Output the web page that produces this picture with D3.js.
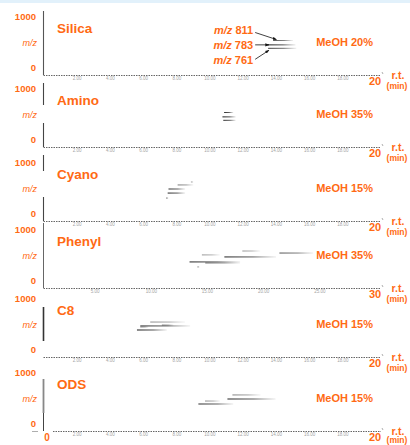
<!DOCTYPE html>
<html>
<head>
<meta charset="utf-8">
<script src="https://cdn.jsdelivr.net/npm/d3@7"></script>
<style>
  html, body { margin: 0; padding: 0; background: #fff; }
  svg { display: block; font-family: "Liberation Sans", Arial, sans-serif; }
</style>
</head>
<body>
<script>
// Stationary phases compared, one panel each, with the methanol content used
const columns = ["Silica", "Amino", "Cyano", "Phenyl", "C8", "ODS"];
const mobilePhase = ["MeOH 20%", "MeOH 35%", "MeOH 15%", "MeOH 35%", "MeOH 15%", "MeOH 15%"];
const rtMax = [20, 20, 20, 30, 20, 20];
const rtTicks20 = [2, 4, 6, 8, 10, 12, 14, 16, 18];
const rtTicks30 = [5, 10, 15, 20, 25];
const mzLabelValues = [1000, 0];

// Ion traces per column: [rt start (min), rt end (min), m/z, relative intensity]
const silicaTraces = [[13.8, 15.0, 811, 0.6], [13.45, 15.15, 783, 0.95], [13.5, 15.2, 761, 0.75]];
const aminoTraces = [[10.85, 11.4, 811, 0.85], [10.75, 11.55, 783, 0.95], [10.8, 11.55, 761, 0.85]];
const cyanoTraces = [[8.85, 9.0, 840, 0.3], [8.05, 9.0, 821, 0.45], [7.5, 8.5, 795, 0.85],
                     [7.45, 8.5, 769, 0.9], [7.35, 7.5, 737, 0.5]];
const phenylTraces = [[18.1, 19.7, 827, 0.3], [21.4, 24.4, 814, 0.65], [14.5, 16.1, 802, 0.3],
                      [16.5, 21.1, 789, 0.9], [13.4, 17.9, 757, 0.9], [14.8, 17.9, 750, 0.45],
                      [14.1, 14.3, 725, 0.4]];
const c8Traces = [[6.4, 8.5, 814, 0.35], [7.1, 7.8, 795, 0.35], [5.8, 8.8, 789, 0.85],
                  [5.8, 6.3, 782, 0.35], [5.6, 7.4, 763, 0.95]];
const odsTraces = [[11.35, 13.05, 821, 0.4], [11.05, 13.95, 795, 0.9], [9.7, 10.6, 782, 0.35],
                   [9.3, 11.4, 763, 0.85]];
const traces = [silicaTraces, aminoTraces, cyanoTraces, phenylTraces, c8Traces, odsTraces];

// Annotated ions in the silica panel
const annotatedMz = [811, 783, 761];
const annotatedRt = [14.0, 13.55, 13.55];

const W = 410, H = 445;
const orange = "#ff6a14";
const baselines = [75, 147, 221, 288, 357, 431];   // x-axis line of each panel
const plotHeight = 64;
const xLeft = 44, xRight = 376;

// y-axis strokes of each panel: [top, bottom (px above baseline), width, colour]
const axisStrokes = [
  [[-64, 0, 1.1, "#555"]],
  [[-64, -42, 1.1, "#444"], [-24, 0, 1.1, "#444"]],
  [[-66, -50, 1.1, "#444"], [-24, 0, 1.1, "#444"]],
  [[-65, 0, 1, "#666"]],
  [[-50, -16, 1.6, "#333"]],
  [[-52, -18, 1.8, "#888"], [-18, 0, 1, "#444"]]
];

const svg = d3.select("body").append("svg").attr("width", W).attr("height", H);
const defs = svg.append("defs");

// traces fade out towards later retention times
const fade = defs.append("linearGradient").attr("id", "fade").attr("x1", 0).attr("x2", 1).attr("y1", 0).attr("y2", 0);
fade.append("stop").attr("offset", 0).attr("stop-color", "#000").attr("stop-opacity", 0.95);
fade.append("stop").attr("offset", 0.55).attr("stop-color", "#111").attr("stop-opacity", 0.75);
fade.append("stop").attr("offset", 1).attr("stop-color", "#333").attr("stop-opacity", 0.1);

defs.append("marker").attr("id", "arrow").attr("viewBox", "0 0 10 10")
  .attr("refX", 9).attr("refY", 5).attr("markerWidth", 5).attr("markerHeight", 5)
  .attr("orient", "auto").append("path").attr("d", "M0,1 L10,5 L0,9 Z").attr("fill", "#111");

// thin header band
svg.append("rect").attr("x", 0).attr("y", 0).attr("width", W).attr("height", 3).attr("fill", "#e2f1fb");

const mzScale = d3.scaleLinear().domain([590, 1000]).range([0, -plotHeight]);
const labelScale = d3.scaleLinear().domain([0, 1000]).range([-7, -58]);

columns.forEach((name, i) => {
  const base = baselines[i];
  const x = d3.scaleLinear().domain([0, rtMax[i]]).range([xLeft - (rtMax[i] === 30 ? 5 : 0), xRight]);
  const g = svg.append("g").attr("transform", `translate(0,${base})`);

  // y axis
  g.selectAll("line.yaxis").data(axisStrokes[i]).join("line").attr("class", "yaxis")
    .attr("x1", 43.5).attr("x2", 43.5).attr("y1", d => d[0]).attr("y2", d => d[1])
    .attr("stroke", d => d[3]).attr("stroke-width", d => d[2]);

  // x axis: dotted baseline with tiny tick labels
  g.append("line").attr("x1", i === 5 ? 53 : 43.5).attr("x2", 381).attr("y1", 0.5).attr("y2", 0.5)
    .attr("stroke", "#666").attr("stroke-width", 1).attr("stroke-dasharray", "1.5,1");
  g.append("line").attr("x1", 382).attr("x2", 383).attr("y1", -3).attr("y2", -1)
    .attr("stroke", "#999").attr("stroke-width", 0.8);
  const ticks = rtMax[i] === 30 ? rtTicks30 : rtTicks20;
  g.selectAll("text.tick").data(ticks).join("text").attr("class", "tick")
    .attr("x", d => x(d)).attr("y", 5).attr("text-anchor", "middle")
    .attr("font-size", 4.5).attr("fill", "#a5a5a5").text(d => d.toFixed(2));

  // m/z labels
  g.selectAll("text.mz").data(mzLabelValues).join("text").attr("class", "mz")
    .attr("x", 36).attr("y", d => labelScale(d)).attr("dy", "0.35em").attr("text-anchor", "end")
    .attr("font-size", 9.5).attr("font-weight", "bold").attr("fill", orange).text(d => d);
  g.append("text").attr("x", 37).attr("y", -32).attr("dy", "0.35em").attr("text-anchor", "end")
    .attr("font-size", 9).attr("font-style", "italic").attr("fill", orange).text("m/z");

  // panel title and mobile phase
  g.append("text").attr("x", 57).attr("y", -47).attr("dy", "0.35em")
    .attr("font-size", 13.5).attr("font-weight", "bold").attr("fill", orange).text(name);
  g.append("text").attr("x", 373).attr("y", -33).attr("dy", "0.35em").attr("text-anchor", "end")
    .attr("font-size", 11).attr("font-weight", "bold").attr("fill", orange).text(mobilePhase[i]);

  // x-axis end label and unit
  g.append("text").attr("x", 375).attr("y", 6).attr("dy", "0.35em").attr("text-anchor", "middle")
    .attr("font-size", 11).attr("font-weight", "bold").attr("fill", orange).text(rtMax[i]);
  g.append("text").attr("x", 398).attr("y", 0).attr("dy", "0.35em").attr("text-anchor", "middle")
    .attr("font-size", 10.5).attr("font-weight", "bold").attr("fill", orange).text("r.t.");
  g.append("text").attr("x", 397).attr("y", i === columns.length - 1 ? 9.5 : 11).attr("dy", "0.35em")
    .attr("text-anchor", "middle")
    .attr("font-size", 8.5).attr("font-weight", "bold").attr("fill", orange).text("(min)");

  // ion traces
  g.selectAll("rect.trace").data(traces[i]).join("rect").attr("class", "trace")
    .attr("x", d => x(d[0])).attr("width", d => x(d[1]) - x(d[0]))
    .attr("y", d => mzScale(d[2]) - 0.5).attr("height", 1)
    .attr("fill", "url(#fade)").attr("opacity", d => 0.2 + 0.8 * d[3]);

  if (i === 0) {
    // arrows pointing at the annotated ions
    const labelDy = [-10, 0, 12];
    const labelX = x(12.6);
    annotatedMz.forEach((mz, k) => {
      const tx = x(annotatedRt[k]);
      const ty = mzScale(mz) + (k === 0 ? -1 : k === 2 ? 2 : 0);
      const ly = mzScale(mz) + labelDy[k];
      g.append("line").attr("x1", labelX + 2).attr("y1", ly + (k === 0 ? 2 : k === 2 ? -1 : 0))
        .attr("x2", tx).attr("y2", ty)
        .attr("stroke", "#111").attr("stroke-width", 0.8).attr("marker-end", "url(#arrow)");
      const t = g.append("text").attr("x", labelX).attr("y", ly).attr("dy", "0.35em")
        .attr("text-anchor", "end").attr("font-size", 11).attr("font-weight", "bold").attr("fill", orange);
      t.append("tspan").attr("font-style", "italic").text("m/z");
      t.append("tspan").text(" " + mz);
    });
  }

  if (i === columns.length - 1) {
    g.append("text").attr("x", 47).attr("y", 6).attr("dy", "0.35em").attr("text-anchor", "middle")
      .attr("font-size", 10).attr("font-weight", "bold").attr("fill", orange).text("0");
    g.append("line").attr("x1", 32).attr("x2", 38).attr("y1", 0.5).attr("y2", 0.5)
      .attr("stroke", "#999").attr("stroke-width", 0.8);
  }
});
</script>
</body>
</html>
